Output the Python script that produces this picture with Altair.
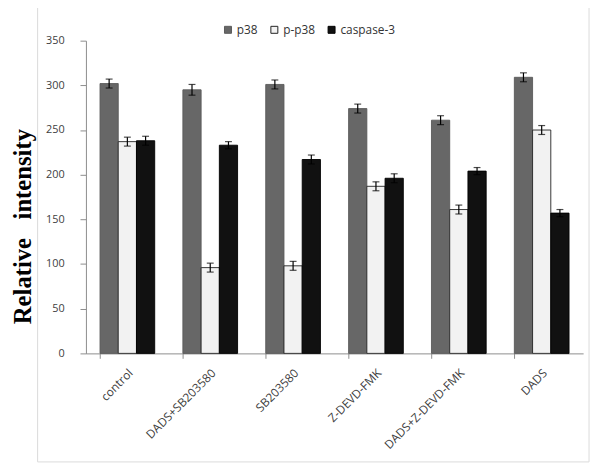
import altair as alt
import pandas as pd

groups = ["control", "DADS+SB203580", "SB203580", "Z-DEVD-FMK", "DADS+Z-DEVD-FMK", "DADS"]
series = ["p38", "p-p38", "caspase-3"]
p38 = [302, 295, 301, 274, 261, 309]
pp38 = [237, 96, 98, 187, 161, 250]
casp3 = [238, 233, 217, 196, 204, 157]
p38_err = [5, 6, 5, 5, 5, 5]
pp38_err = [5, 5, 5, 5, 5, 5]
casp3_err = [5, 4, 5, 5, 4, 4]
y_ticks = [0, 50, 100, 150, 200, 250, 300, 350]

fills = ["#676767", "#f2f2f2", "#111111"]
strokes = ["#5a5a5a", "#222222", "#000000"]

rows = []
for s, vals, errs in [("p38", p38, p38_err), ("p-p38", pp38, pp38_err), ("caspase-3", casp3, casp3_err)]:
    for g, v, e in zip(groups, vals, errs):
        rows.append({"group": g, "series": s, "value": v, "err": e})
df = pd.DataFrame(rows)

FONT = "Open Sans"

x_enc = alt.X(
    "group:N", sort=groups,
    scale=alt.Scale(paddingInner=0.34, paddingOuter=0.17),
    axis=alt.Axis(
        title=None, labelAngle=-45, bandPosition=0, labelFont=FONT, labelFontSize=12,
        labelColor="#404040", domainColor="#8c8c8c", tickColor="#8c8c8c", tickSize=5,
        labelPadding=9,
    ),
)
xo_enc = alt.XOffset("series:N", sort=series, scale=alt.Scale(paddingInner=0, paddingOuter=0))
y_scale = alt.Scale(domain=[0, 350], nice=False)
y_axis = alt.Axis(
    values=y_ticks, grid=False,
    labelFont=FONT, labelFontSize=11, labelColor="#404040",
    domainColor="#8c8c8c", tickColor="#8c8c8c", tickSize=6, labelPadding=16,
    title="Relative\u00a0\u00a0 intensity", titleFont="Liberation Serif", titleFontSize=25,
    titleFontWeight="bold", titleColor="#000000", titleX=-56, titleY=188,
    titleBaseline="alphabetic",
)

base = alt.Chart(df)

shadow = base.mark_bar(color="#888888", opacity=0.22, xOffset=3, yOffset=1).encode(
    x=x_enc, xOffset=xo_enc, y=alt.Y("value:Q", scale=y_scale, axis=y_axis)
)

bars = base.mark_bar(strokeWidth=0.9).encode(
    x=x_enc,
    xOffset=xo_enc,
    y=alt.Y("value:Q", scale=y_scale, axis=y_axis),
    fill=alt.Fill(
        "series:N", sort=series,
        scale=alt.Scale(domain=series, range=fills),
        legend=alt.Legend(
            title=None, orient="none", legendX=138, legendY=-17, direction="horizontal",
            symbolType="square", symbolSize=50, symbolStrokeColor="#222222", symbolStrokeWidth=1,
            labelFont=FONT, labelFontSize=12, labelColor="#333333", columnPadding=10, labelOffset=3,
        ),
    ),
    stroke=alt.Stroke("series:N", sort=series, scale=alt.Scale(domain=series, range=strokes), legend=None),
)

err_base = base.transform_calculate(lo="datum.value - datum.err", hi="datum.value + datum.err")

rules = err_base.mark_rule(color="#000000", strokeWidth=1.2).encode(
    x=x_enc, xOffset=xo_enc,
    y=alt.Y("lo:Q", scale=y_scale, axis=y_axis), y2="hi:Q",
)
caps_lo = err_base.mark_tick(color="#000000", thickness=1.2, size=7).encode(
    x=x_enc, xOffset=xo_enc, y=alt.Y("lo:Q", scale=y_scale, axis=y_axis)
)
caps_hi = err_base.mark_tick(color="#000000", thickness=1.2, size=7).encode(
    x=x_enc, xOffset=xo_enc, y=alt.Y("hi:Q", scale=y_scale, axis=y_axis)
)

frame = alt.Chart(pd.DataFrame({"a": [0]})).mark_rect(fill=None, stroke="#dadada", strokeWidth=1).encode(
    x=alt.value(-49), x2=alt.value(510), y=alt.value(-36), y2=alt.value(427)
)

chart = alt.layer(frame, shadow, bars, rules, caps_lo, caps_hi).properties(
    width=504, height=317,
    autosize=alt.AutoSizeParams(type="none"),
    padding={"left": 79, "top": 30, "right": 9, "bottom": 108},
    background="white",
).configure_view(stroke=None)

chart.save("out.html", embed_options={"renderer": "svg", "actions": False})
